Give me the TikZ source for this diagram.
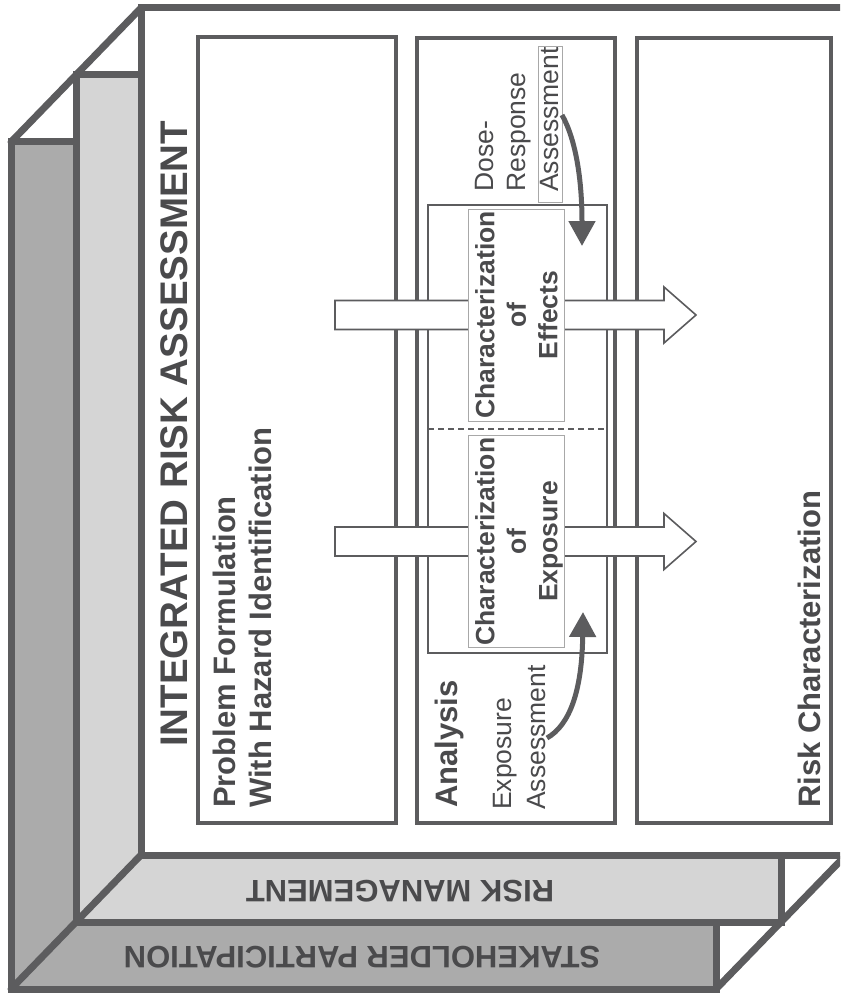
\documentclass[tikz,border=0pt]{standalone}
\usepackage{fontspec}
\setmainfont{Liberation Sans}
\usetikzlibrary{arrows.meta}
\definecolor{rimgray}{HTML}{5C5C5E}
\definecolor{inkgray}{HTML}{4A4A4C}
\definecolor{backgray}{HTML}{ABABAB}
\definecolor{midgray}{HTML}{D5D5D5}
\definecolor{softgray}{HTML}{A8A8A8}

\begin{document}
\begin{tikzpicture}
    [
    x=1pt,y=-1pt,
    rim/.style={draw=rimgray,line width=7pt},
    panel/.style={draw=rimgray,line width=3.5pt},
    tagline/.style={rotate=90,anchor=north west,inner sep=0pt,align=left,text=inkgray},
    charbox/.style={rotate=90,draw=softgray,line width=0.8pt,fill=white,inner sep=0pt,minimum width=212pt,minimum height=96pt},
    chartext/.style={rotate=90,anchor=north,inner sep=0pt,align=center,text=inkgray,font=\bfseries\fontsize{26.5}{31.5}\selectfont},
    flatarrow/.style={draw=rimgray,line width=1.6pt,fill=white,line join=miter},
    bendarrow/.style={draw=rimgray,line width=5pt,-{Triangle[length=25pt,width=26pt]}},
    boldface/.style={font=\bfseries\fontsize{31}{36}\selectfont},
    thinface/.style={font=\fontsize{26.5}{34}\selectfont}
    ]
    \useasboundingbox (0,0) rectangle (840,995);
    \clip (0,0) rectangle (840,995);

    % stacked layers
    \draw [rim,fill=backgray] (11,142) rectangle (716,989);
    \draw [rim,fill=midgray] (76,75) rectangle (781,922);
    \draw [rim,fill=white] (141,8) rectangle (846,855);
    \draw [rim,line cap=round] (141,8) -- (11,142);
    \draw [rim,line cap=round] (846,855) -- (716,989);
    \draw [rim,line cap=round] (141,855) -- (11,989);
    \node [rotate=180,text=inkgray,boldface] (riskman) at (400,891) {RISK MANAGEMENT};
    \node [rotate=180,text=inkgray,boldface] (stake) at (362,957) {STAKEHOLDER PARTICIPATION};

    % three stages
    \draw [panel] (198,37) rectangle (396,823);
    \draw [panel] (417,38) rectangle (615,823);
    \draw [panel] (637,38) rectangle (831,823);
    \draw [draw=rimgray,line width=1.5pt] (428,205) rectangle (607,653);
    \draw [draw=rimgray,line width=1.2pt,dash pattern=on 6pt off 4pt] (428,429) -- (607,429);

    % hollow arrows
    \foreach \yy in {315,541.5}
      \draw [flatarrow] (335,\yy-14.5) -- (664,\yy-14.5) -- (664,\yy-28) -- (696,\yy)
        -- (664,\yy+28) -- (664,\yy+14.5) -- (335,\yy+14.5) -- cycle;

    \node [charbox] (effbox) at (516,315) {};
    \node [charbox] (expbox) at (516.5,541.5) {};
    \node [chartext] (efftext) at (475,315) {Characterization\\of\\Effects};
    \node [chartext] (exptext) at (475,541.5) {Characterization\\of\\Exposure};

    \node [tagline,font=\bfseries\fontsize{38.5}{44}\selectfont] (title) at (160,747) {INTEGRATED RISK ASSESSMENT};
    \node [tagline,boldface] (probtext) at (213,808) {Problem Formulation\\With Hazard Identification};
    \node [tagline,boldface] (anatext) at (435,808) {Analysis};
    \node [tagline,thinface] (exptag) at (493,810) {Exposure\\Assessment};
    \node [tagline,font=\fontsize{26.5}{32.5}\selectfont] (dosetag) at (475,192) {Dose-\\Response\\Assessment};
    \draw [draw=softgray,line width=0.8pt] (538,46) rectangle (562,202);
    \node [tagline,boldface] (risktext) at (798,808) {Risk Characterization};

    \coordinate (dosefrom) at (562,115);
    \coordinate (doseto) at (582,246);
    \coordinate (expfrom) at (547,738);
    \coordinate (expto) at (583,612);
    \draw [bendarrow] (dosefrom) .. controls (576,140) and (582,180) .. (doseto);
    \draw [bendarrow] (expfrom) .. controls (570,725) and (582,690) .. (expto);
\end{tikzpicture}
\end{document}
